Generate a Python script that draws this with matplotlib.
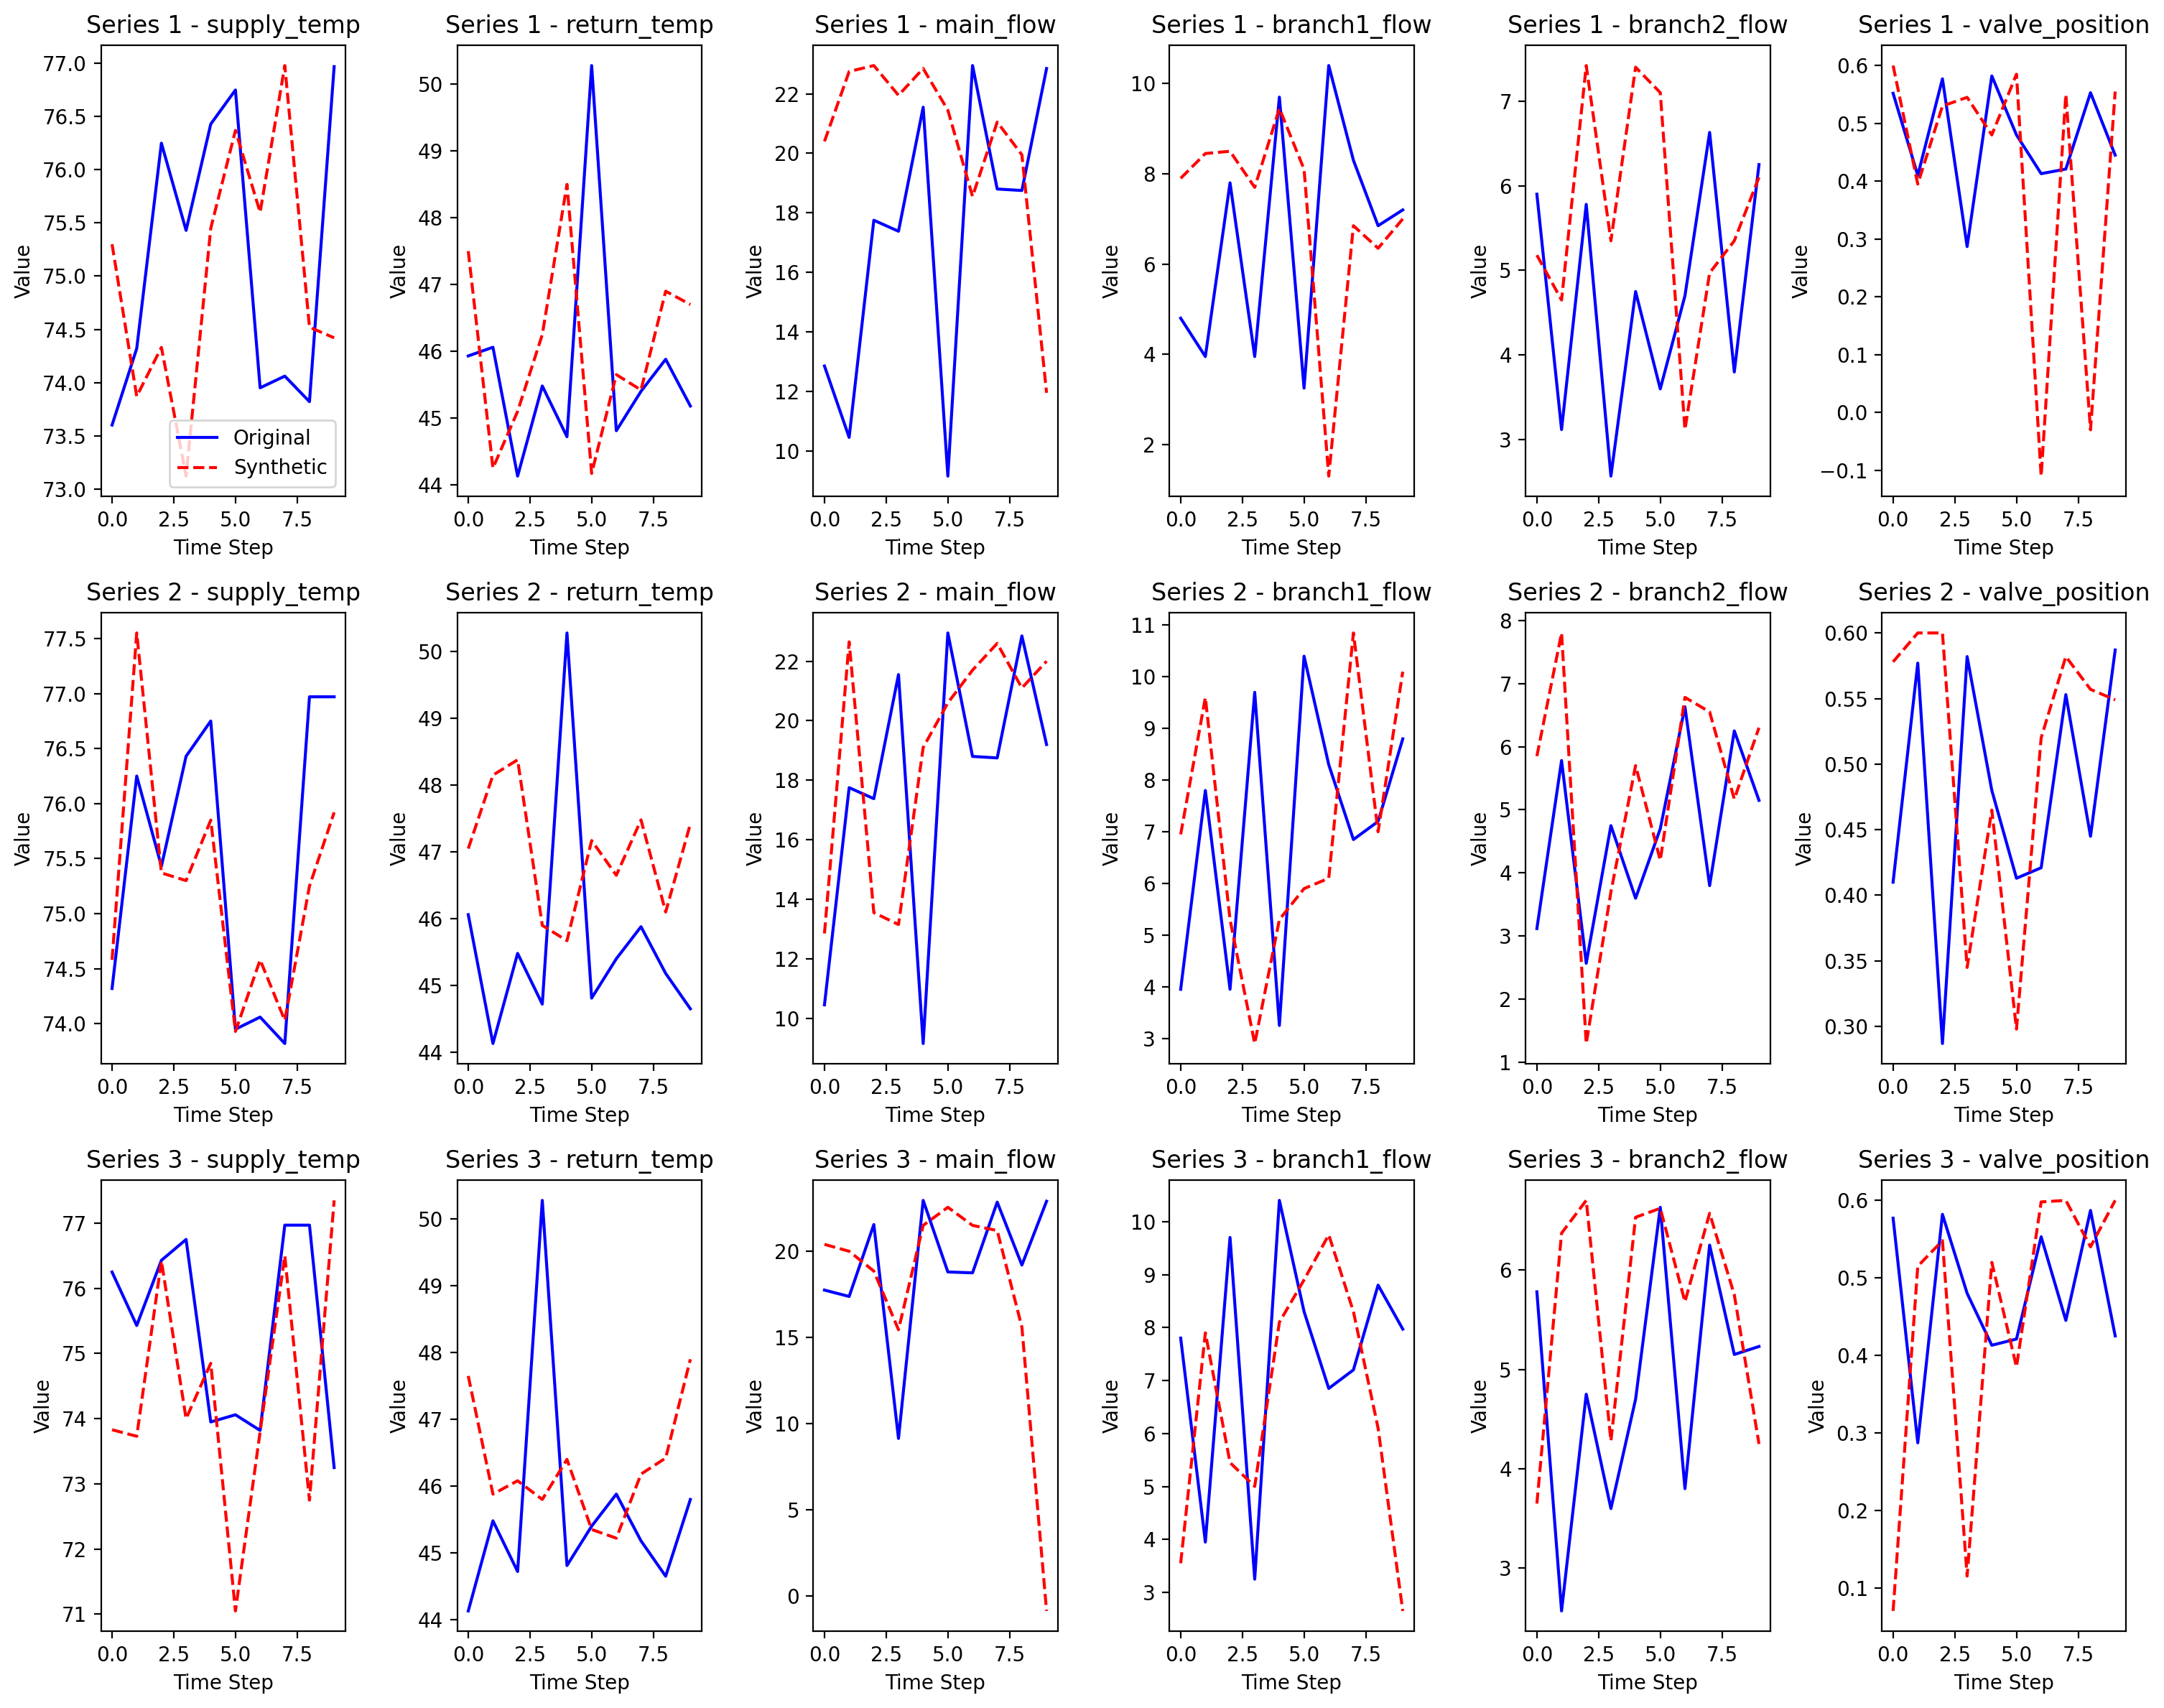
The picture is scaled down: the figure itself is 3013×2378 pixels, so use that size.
import numpy as np
import matplotlib
matplotlib.use('Agg')
import matplotlib.pyplot as plt

features = ['supply_temp', 'return_temp', 'main_flow', 'branch1_flow', 'branch2_flow', 'valve_position']
n_series = 3
window = 10

# original sequences (each series is a sliding window of 10 over these)
orig_supply_temp = [73.6, 74.32, 76.25, 75.43, 76.43, 76.75, 73.95, 74.06, 73.82, 76.97, 76.97, 73.25]
orig_return_temp = [45.93, 46.06, 44.13, 45.48, 44.72, 50.28, 44.81, 45.4, 45.88, 45.18, 44.65, 45.8]
orig_main_flow = [12.85, 10.45, 17.75, 17.38, 21.55, 9.15, 22.95, 18.8, 18.75, 22.85, 19.2, 22.9]
orig_branch1_flow = [4.8, 3.95, 7.8, 3.95, 9.7, 3.25, 10.4, 8.3, 6.85, 7.2, 8.8, 7.97]
orig_branch2_flow = [5.9, 3.12, 5.78, 2.57, 4.75, 3.6, 4.7, 6.63, 3.8, 6.25, 5.15, 5.23]
orig_valve_position = [0.552, 0.41, 0.577, 0.287, 0.582, 0.48, 0.413, 0.421, 0.553, 0.445, 0.587, 0.425]

# synthetic series, one list per series
syn_supply_temp = [
    [75.3, 73.87, 74.33, 73.12, 75.45, 76.37, 75.6, 76.98, 74.52, 74.42],
    [74.58, 77.55, 75.37, 75.3, 75.85, 73.93, 74.58, 74.03, 75.25, 75.92],
    [73.83, 73.73, 76.42, 74.0, 74.85, 71.05, 73.8, 76.5, 72.75, 77.35],
]
syn_return_temp = [
    [47.5, 44.25, 45.1, 46.25, 48.5, 44.17, 45.65, 45.42, 46.9, 46.7],
    [47.05, 48.15, 48.38, 45.9, 45.67, 47.17, 46.65, 47.48, 46.1, 47.42],
    [47.65, 45.88, 46.08, 45.8, 46.4, 45.35, 45.22, 46.18, 46.42, 47.9],
]
syn_main_flow = [
    [20.4, 22.75, 22.95, 21.95, 22.85, 21.45, 18.55, 21.05, 19.95, 11.95],
    [12.85, 22.65, 13.55, 13.15, 19.1, 20.6, 21.7, 22.6, 21.1, 22.0],
    [20.4, 20.0, 18.85, 15.45, 21.5, 22.55, 21.5, 21.2, 15.6, -0.85],
]
syn_branch1_flow = [
    [7.9, 8.45, 8.5, 7.7, 9.45, 8.1, 1.3, 6.85, 6.35, 7.0],
    [6.95, 9.6, 5.3, 2.9, 5.3, 5.9, 6.1, 10.85, 7.0, 10.1],
    [3.55, 7.9, 5.45, 5.0, 8.1, 8.9, 9.75, 8.3, 6.1, 2.65],
]
syn_branch2_flow = [
    [5.18, 4.65, 7.42, 5.35, 7.4, 7.1, 3.12, 4.97, 5.35, 6.1],
    [5.85, 7.8, 1.3, 3.7, 5.7, 4.2, 6.78, 6.55, 5.17, 6.3],
    [3.65, 6.37, 6.7, 4.28, 6.53, 6.62, 5.68, 6.57, 5.75, 4.25],
]
syn_valve_position = [
    [0.60, 0.395, 0.53, 0.545, 0.48, 0.585, -0.11, 0.55, -0.03, 0.555],
    [0.578, 0.60, 0.60, 0.345, 0.465, 0.298, 0.52, 0.582, 0.557, 0.549],
    [0.07, 0.515, 0.548, 0.115, 0.52, 0.385, 0.598, 0.60, 0.54, 0.60],
]

orig = {'supply_temp': orig_supply_temp, 'return_temp': orig_return_temp,
        'main_flow': orig_main_flow, 'branch1_flow': orig_branch1_flow,
        'branch2_flow': orig_branch2_flow, 'valve_position': orig_valve_position}
syn = {'supply_temp': syn_supply_temp, 'return_temp': syn_return_temp,
       'main_flow': syn_main_flow, 'branch1_flow': syn_branch1_flow,
       'branch2_flow': syn_branch2_flow, 'valve_position': syn_valve_position}

fig, axes = plt.subplots(n_series, len(features), figsize=(15, 12))
for i in range(n_series):
    for j, feat in enumerate(features):
        ax = axes[i, j]
        o = np.array(orig[feat][i:i + window])
        s = np.array(syn[feat][i])
        ax.plot(o, 'b-', label='Original')
        ax.plot(s, 'r--', label='Synthetic')
        ax.set_title(f'Series {i+1} - {feat}')
        ax.set_xlabel('Time Step')
        ax.set_ylabel('Value')
        if i == 0 and j == 0:
            ax.legend(loc='lower right')

plt.tight_layout()
plt.savefig('out.png', dpi=200, bbox_inches='tight')
